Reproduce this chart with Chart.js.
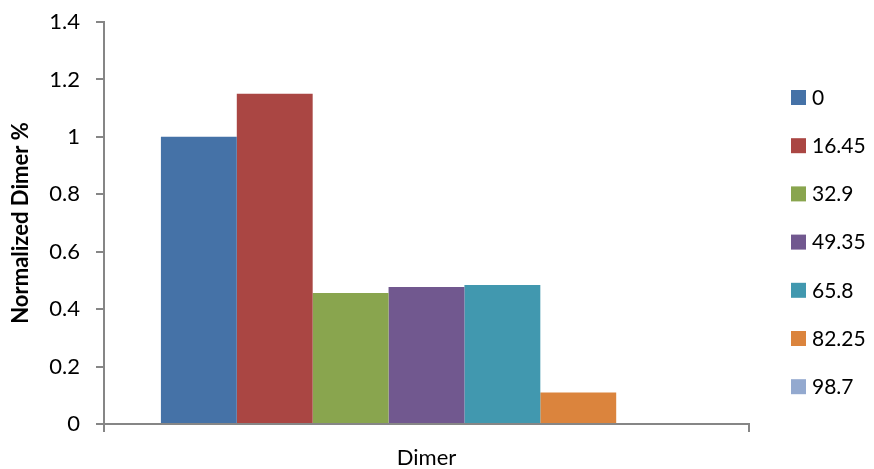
<!DOCTYPE html>
<html>
<head>
<meta charset="utf-8">
<script src="https://cdn.jsdelivr.net/npm/chart.js@4.4.1/dist/chart.umd.min.js"></script>
<style>
  html, body { margin: 0; padding: 0; background: #ffffff; }
  #wrap { width: 874px; height: 469px; position: relative; }
</style>
</head>
<body>
<div id="wrap"><canvas id="chart" width="874" height="469"></canvas></div>
<script>
// Normalized dimer fraction per concentration series
const categories = ['Dimer'];
const seriesNames = ['0', '16.45', '32.9', '49.35', '65.8', '82.25', '98.7'];
const seriesValues = [1.0, 1.15, 0.456, 0.477, 0.484, 0.11, 0];
const seriesColors = ['#4572A7', '#AA4643', '#89A54E', '#71588F', '#4198AF', '#DB843D', '#93A9CF'];
const yTicks = [0, 0.2, 0.4, 0.6, 0.8, 1, 1.2, 1.4];

const FONT = 'Lato, "Open Sans", sans-serif';
const AXIS_GREY = '#868686';

// Right-hand legend: square swatch plus series name, evenly spaced
const sideLegend = {
  id: 'sideLegend',
  afterDraw(chart) {
    const ctx = chart.ctx;
    ctx.save();
    ctx.font = '21px ' + FONT;
    ctx.textBaseline = 'middle';
    ctx.textAlign = 'left';
    chart.data.datasets.forEach((ds, i) => {
      const y = 97 + i * 48.2;
      ctx.fillStyle = ds.backgroundColor;
      ctx.fillRect(791, y - 7, 15, 15);
      ctx.fillStyle = '#000000';
      ctx.fillText(ds.label, 812, y + 1);
    });
    ctx.restore();
  }
};

const datasets = seriesNames.map((name, i) => ({
  label: name,
  data: [seriesValues[i]],
  backgroundColor: seriesColors[i],
  borderWidth: 0,
  categoryPercentage: 7 / 8.5,
  barPercentage: 1.0
}));

new Chart(document.getElementById('chart'), {
  type: 'bar',
  data: { labels: categories, datasets },
  options: {
    responsive: false,
    animation: false,
    devicePixelRatio: 1,
    layout: { padding: { top: 22, right: 125, bottom: 0, left: 0 } },
    plugins: {
      legend: { display: false },
      tooltip: { enabled: false }
    },
    scales: {
      x: {
        offset: true,
        afterFit(axis) {
          axis.height = 45;
        },
        grid: {
          offset: true,
          drawOnChartArea: false,
          drawTicks: true,
          tickLength: 8,
          color: AXIS_GREY,
          lineWidth: 2
        },
        border: { display: true, color: AXIS_GREY, width: 2 },
        ticks: {
          color: '#000000',
          font: { family: FONT, size: 22 },
          padding: 13
        }
      },
      y: {
        min: 0,
        max: 1.4,
        afterBuildTicks(axis) {
          axis.ticks = yTicks.map(v => ({ value: v }));
        },
        afterFit(axis) {
          axis.width = 104;
          axis.paddingTop = 0;
          axis.paddingBottom = 0;
        },
        grid: {
          drawOnChartArea: false,
          drawTicks: true,
          tickLength: 8,
          color: AXIS_GREY,
          lineWidth: 2
        },
        border: { display: true, color: AXIS_GREY, width: 2 },
        ticks: {
          color: '#000000',
          font: { family: FONT, size: 22 },
          padding: 16,
          callback: v => String(Math.round(v * 10) / 10)
        },
        title: {
          display: true,
          text: 'Normalized Dimer %',
          color: '#000000',
          font: { family: FONT, size: 22, weight: 'bold' },
          padding: { top: 8, bottom: 0 }
        }
      }
    }
  },
  plugins: [sideLegend]
});
</script>
</body>
</html>
